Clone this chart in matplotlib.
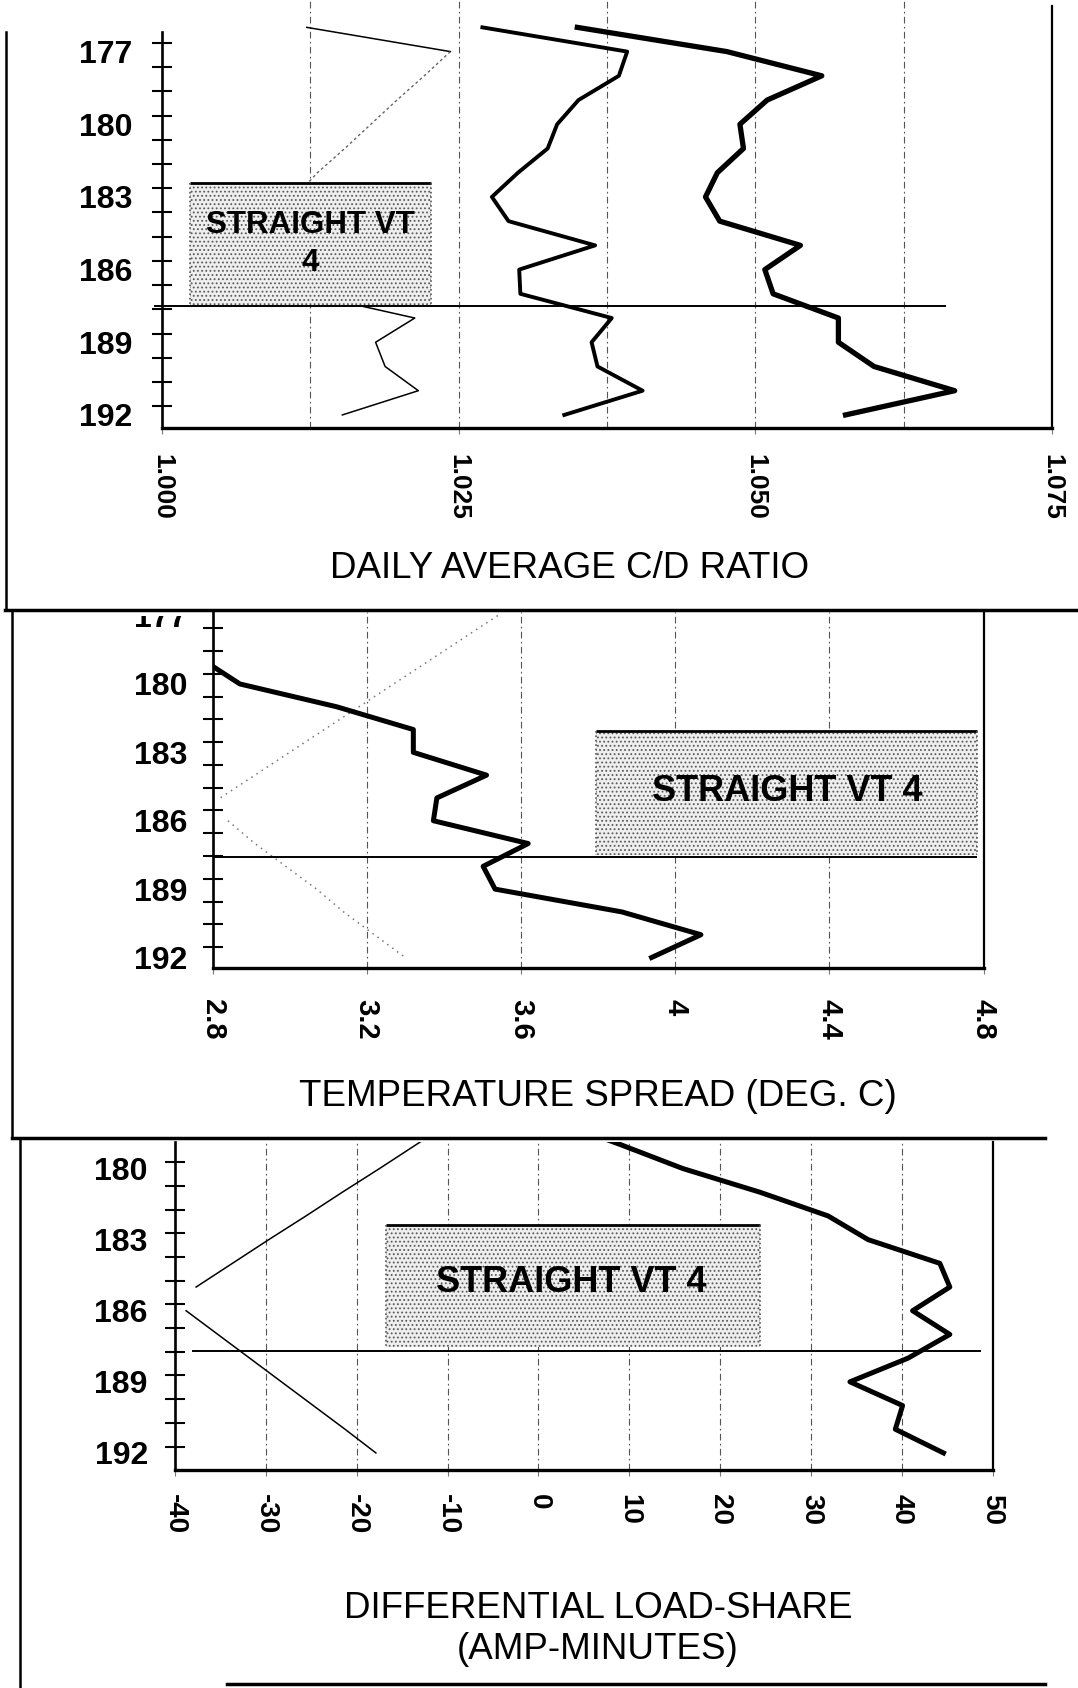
import matplotlib
matplotlib.use("Agg")
import matplotlib.pyplot as plt
from matplotlib.patches import Rectangle
from matplotlib.lines import Line2D

# ---------------- data ----------------
# panel 1: daily average C/D ratio
P1_DAYS = list(range(176, 193))
P1_THICK = [1.0350, 1.0476, 1.0556, 1.0510, 1.0487, 1.0490, 1.0468, 1.0458, 1.0470,
            1.0538, 1.0508, 1.0515, 1.0570, 1.0570, 1.0600, 1.0668, 1.0576]
P1_MID = [1.0270, 1.0392, 1.0385, 1.0351, 1.0333, 1.0325, 1.0300, 1.0278, 1.0292,
          1.0365, 1.0301, 1.0302, 1.0379, 1.0362, 1.0367, 1.0405, 1.0339]
P1_THIN = [1.0122, 1.0243, 1.0221, 1.0198, 1.0176, 1.0154, 1.0131, 1.0112, 1.0115,
           1.0118, 1.0120, 1.0122, 1.0213, 1.0180, 1.0188, 1.0216, 1.0152]
P1_XTICKS = [1.000, 1.025, 1.050, 1.075]
P1_XLABELS = ["1.000", "1.025", "1.050", "1.075"]
P1_GRID = [1.0125, 1.025, 1.0375, 1.05, 1.0625]

# panel 2: temperature spread
P2_DAYS = list(range(179, 193))
P2_THICK = [2.78, 2.871, 3.122, 3.321, 3.321, 3.511, 3.382, 3.373, 3.619, 3.502,
            3.533, 3.862, 4.067, 3.939]
P2_DOT_A_DAYS = list(range(177, 186))
P2_DOT_A = [3.54, 3.45, 3.36, 3.27, 3.18, 3.09, 3.00, 2.91, 2.82]
P2_DOT_B_DAYS = list(range(186, 193))
P2_DOT_B = [2.84, 2.91, 2.99, 3.07, 3.14, 3.22, 3.30]
P2_XTICKS = [2.8, 3.2, 3.6, 4.0, 4.4, 4.8]
P2_XLABELS = ["2.8", "3.2", "3.6", "4", "4.4", "4.8"]

# panel 3: differential load-share
P3_DAYS = list(range(178, 193))
P3_THICK = [2.0, 9.1, 15.9, 24.4, 31.9, 36.3, 44.2, 45.3, 41.2, 45.3, 40.7, 34.3,
            40.1, 39.3, 44.6]
P3_THIN_A_DAYS = list(range(178, 186))
P3_THIN_A = [-9.5, -13.5, -17.5, -21.6, -25.6, -29.7, -33.7, -37.7]
P3_THIN_B_DAYS = list(range(186, 193))
P3_THIN_B = [-38.8, -35.3, -31.8, -28.3, -24.8, -21.3, -17.9]
P3_XTICKS = [-40, -30, -20, -10, 0, 10, 20, 30, 40, 50]
P3_XLABELS = ["-40", "-30", "-20", "-10", "0", "10", "20", "30", "40", "50"]

DAY_LABELS = [177, 180, 183, 186, 189, 192]
BOX_TEXT = "STRAIGHT VT 4"

# ---------------- layout (pixels) ----------------
W, H = 1078, 1688
DPI = 100

plt.rcParams["font.family"] = ["Liberation Sans", "DejaVu Sans"]
plt.rcParams["hatch.color"] = "#5a5a5a"
plt.rcParams["hatch.linewidth"] = 0.8


def axes_px(fig, left, top, right, bottom):
    return fig.add_axes([left / W, 1 - bottom / H, (right - left) / W, (bottom - top) / H])


def fig_line(fig, x0, y0, x1, y1, lw=2.5):
    fig.add_artist(Line2D([x0 / W, x1 / W], [1 - y0 / H, 1 - y1 / H], color="black",
                          lw=lw, transform=fig.transFigure, zorder=6))


def style_axes(ax, xlim, ylim, tick_off, ypad, xpad, xsize, xticks, xlabels):
    for s in ["left", "bottom", "right"]:
        ax.spines[s].set_color("black")
    ax.spines["top"].set_visible(False)
    ax.spines["left"].set_linewidth(1.9)
    ax.spines["bottom"].set_linewidth(2.4)
    ax.spines["right"].set_linewidth(1.6)

    lo, hi = ylim[1], ylim[0]
    labels = [d for d in DAY_LABELS if lo < d < hi]
    ax.set_yticks(labels)
    ax.set_yticklabels([str(d) for d in labels], fontsize=23, fontweight="bold")
    ax.set_yticks([d + tick_off for d in range(174, 193)
                   if max(lo, 176.0) < d + tick_off < hi], minor=True)
    ax.tick_params(axis="y", which="major", length=13.7, width=0, direction="inout",
                   pad=ypad)
    ax.tick_params(axis="y", which="minor", length=13.7, width=1.5, direction="inout",
                   color="black")

    ax.set_xticks(xticks)
    ax.set_xticklabels(xlabels, rotation=-90, fontsize=xsize, fontweight="bold")
    ax.tick_params(axis="x", which="major", length=4, width=0.8, direction="out",
                   color="#777777", pad=xpad)
    # set limits last, set_ticks may widen them
    ax.set_xlim(*xlim)
    ax.set_ylim(*ylim)


def draw_box(ax, x0, x1, y0, y1, text, fs, tx, ty, linespacing=1.2):
    ax.add_patch(Rectangle((x0, y0), x1 - x0, y1 - y0, facecolor="#eeeeee",
                           hatch="....", lw=0, zorder=4))
    ax.plot([x0, x1], [y0, y0], color="black", lw=2.0, zorder=5, solid_capstyle="butt")
    ax.plot([x0, x0], [y0, y1], color="#555555", lw=1.2, ls=":", zorder=5)
    ax.plot([x1, x1], [y0, y1], color="#555555", lw=1.2, ls=":", zorder=5)
    ax.text(tx, ty, text, ha="center", va="center", fontsize=fs, fontweight="bold",
            linespacing=linespacing, zorder=6)


def grid_lines(ax, xs):
    for x in xs:
        ax.axvline(x, color="#555555", lw=0.8, ls=(0, (6, 3, 1.5, 3)), zorder=1)


def main():
    fig = plt.figure(figsize=(W / DPI, H / DPI), dpi=DPI)
    fig.patch.set_facecolor("white")

    # ---- panel 1 ----
    ax1 = axes_px(fig, 162, 0, 1052, 428)
    style_axes(ax1, (1.000, 1.075), (192.54, 174.87), 0.64, 14.4, 14.4, 19,
               P1_XTICKS, P1_XLABELS)
    ax1.spines["left"].set_bounds(176.2, 192.54)
    ax1.spines["right"].set_bounds(175.1, 192.54)
    grid_lines(ax1, P1_GRID)
    ax1.plot(P1_THICK, P1_DAYS, color="black", lw=3.8, zorder=3)
    ax1.plot(P1_MID, P1_DAYS, color="black", lw=2.8, zorder=3)
    ax1.plot(P1_THIN[:2], P1_DAYS[:2], color="black", lw=1.1, zorder=3)
    ax1.plot(P1_THIN[1:12], P1_DAYS[1:12], color="#666666", lw=1.0, ls=(0, (2, 2)), zorder=3)
    ax1.plot(P1_THIN[11:], P1_DAYS[11:], color="black", lw=1.1, zorder=3)
    ax1.plot([0.9994, 1.066], [187.5, 187.5], color="black", lw=1.4, zorder=5, clip_on=False)
    draw_box(ax1, 1.00232, 1.02266, 182.43, 187.52, "STRAIGHT VT\n4", 22.5,
             1.0125, 184.95, linespacing=1.33)

    # ---- panel 2 ----
    ax2 = axes_px(fig, 212.5, 611.7, 983.5, 968)
    style_axes(ax2, (2.8, 4.8), (192.46, 176.83), 0.55, 11.5, 18, 21,
               P2_XTICKS, P2_XLABELS)
    grid_lines(ax2, P2_XTICKS[1:-1])
    ax2.plot(P2_DOT_A, P2_DOT_A_DAYS, color="#777777", lw=1.1, ls=(0, (1, 3)), zorder=2)
    ax2.plot(P2_DOT_B, P2_DOT_B_DAYS, color="#777777", lw=1.1, ls=(0, (1, 3)), zorder=2)
    ax2.plot(P2_THICK, P2_DAYS, color="black", lw=3.6, zorder=3)
    ax2.plot([2.8, 4.78], [187.6, 187.6], color="black", lw=1.4, zorder=5)
    draw_box(ax2, 3.795, 4.782, 182.05, 187.5, BOX_TEXT, 26, 4.29, 184.7)

    # ---- panel 3 ----
    ax3 = axes_px(fig, 175.2, 1142, 992.5, 1470)
    style_axes(ax3, (-40, 50), (192.72, 178.88), 0.73, 12.9, 13, 20,
               P3_XTICKS, P3_XLABELS)
    grid_lines(ax3, P3_XTICKS[1:-1])
    ax3.plot(P3_THIN_A, P3_THIN_A_DAYS, color="black", lw=1.1, zorder=2)
    ax3.plot(P3_THIN_B, P3_THIN_B_DAYS, color="black", lw=1.1, zorder=2)
    ax3.plot(P3_THICK, P3_DAYS, color="black", lw=3.6, zorder=3)
    ax3.plot([-38.0, 48.6], [187.7, 187.7], color="black", lw=1.4, zorder=5)
    draw_box(ax3, -16.8, 24.4, 182.38, 187.53, BOX_TEXT, 26, 3.6, 184.8)

    # ---- axis titles ----
    fig.text(570 / W, 1 - 569 / H, "DAILY AVERAGE C/D RATIO", ha="center", va="center",
             fontsize=26.5)
    fig.text(598 / W, 1 - 1096 / H, "TEMPERATURE SPREAD (DEG. C)", ha="center",
             va="center", fontsize=26.5)
    fig.text(598 / W, 1 - 1629 / H, "DIFFERENTIAL LOAD-SHARE\n(AMP-MINUTES)", ha="center",
             va="center", fontsize=26.5, linespacing=1.2)

    # page frame: the 177 label of panel 2 is cut by the divider above it
    fig.add_artist(Rectangle((90 / W, 1 - 616 / H), 116 / W, 28 / H, facecolor="white",
                             edgecolor="none", transform=fig.transFigure, zorder=5))
    fig_line(fig, 6, 32, 6, 610, lw=1.8)
    fig_line(fig, 5, 610, 1078, 610)
    fig_line(fig, 12, 610, 12, 1138, lw=1.8)
    fig_line(fig, 12, 1138, 1045, 1138)
    fig_line(fig, 20, 1138, 20, 1688, lw=1.8)
    fig_line(fig, 227, 1684, 1045, 1684)

    fig.savefig("out.png", dpi=DPI, facecolor="white")
    plt.close(fig)


if __name__ == "__main__":
    main()
